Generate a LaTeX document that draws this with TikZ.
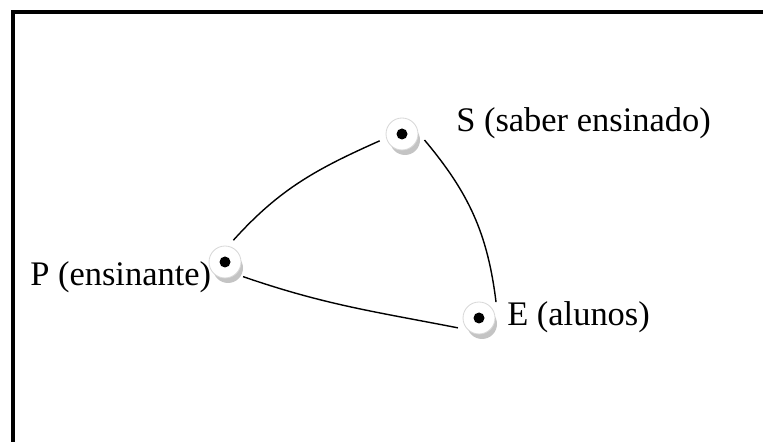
\documentclass[tikz,border=0pt]{standalone}
\usepackage{fontspec}
\setmainfont{Liberation Serif}
\usepackage{tikz}
\usetikzlibrary{calc, positioning}
\definecolor{discgray}{HTML}{C4C4C4}
\definecolor{rimgray}{HTML}{D8D8D8}
\tikzstyle{pole} = [
  circle, minimum size=1.15cm, inner sep=0pt
]
\tikzstyle{polelabel} = [
  anchor=base west, inner sep=0pt, font=\fontsize{24.5}{28}\selectfont
]
\tikzstyle{edge} = [
  line width=1pt, color=black
]

\begin{document}
\begin{tikzpicture}[x=0.025cm, y=0.025cm]

  \useasboundingbox (0,0) rectangle (763,441);
  \draw[line width=2.2pt] (13,-40) -- (13,429) -- (820,429);

  % the three poles
  \node[pole] (S) at (402,307) {};
  \node[pole] (P) at (225,179) {};
  \node[pole] (E) at (479,123) {};

  \foreach \n in {S,P,E} {
    \fill[discgray] ($(\n)+(3,-6)$) circle (15);
    \fill[white] (\n) circle (16);
    \draw[rimgray, line width=0.6pt] (\n) circle (16);
    \fill[black] (\n) circle (5.5);
  }

  \node[polelabel] (Stxt) at (456,309) {S (saber ensinado)};
  \node[polelabel] (Ptxt) at (30,155)  {P (ensinante)};
  \node[polelabel] (Etxt) at (507,115) {E (alunos)};

  \draw[edge] (P.69)  to[out=48, in=204] (S.197);
  \draw[edge] (S.-15) to[out=-50, in=97] (E.43);
  \draw[edge] (P.-39) to[out=-19, in=169] (E.205);

\end{tikzpicture}
\end{document}
